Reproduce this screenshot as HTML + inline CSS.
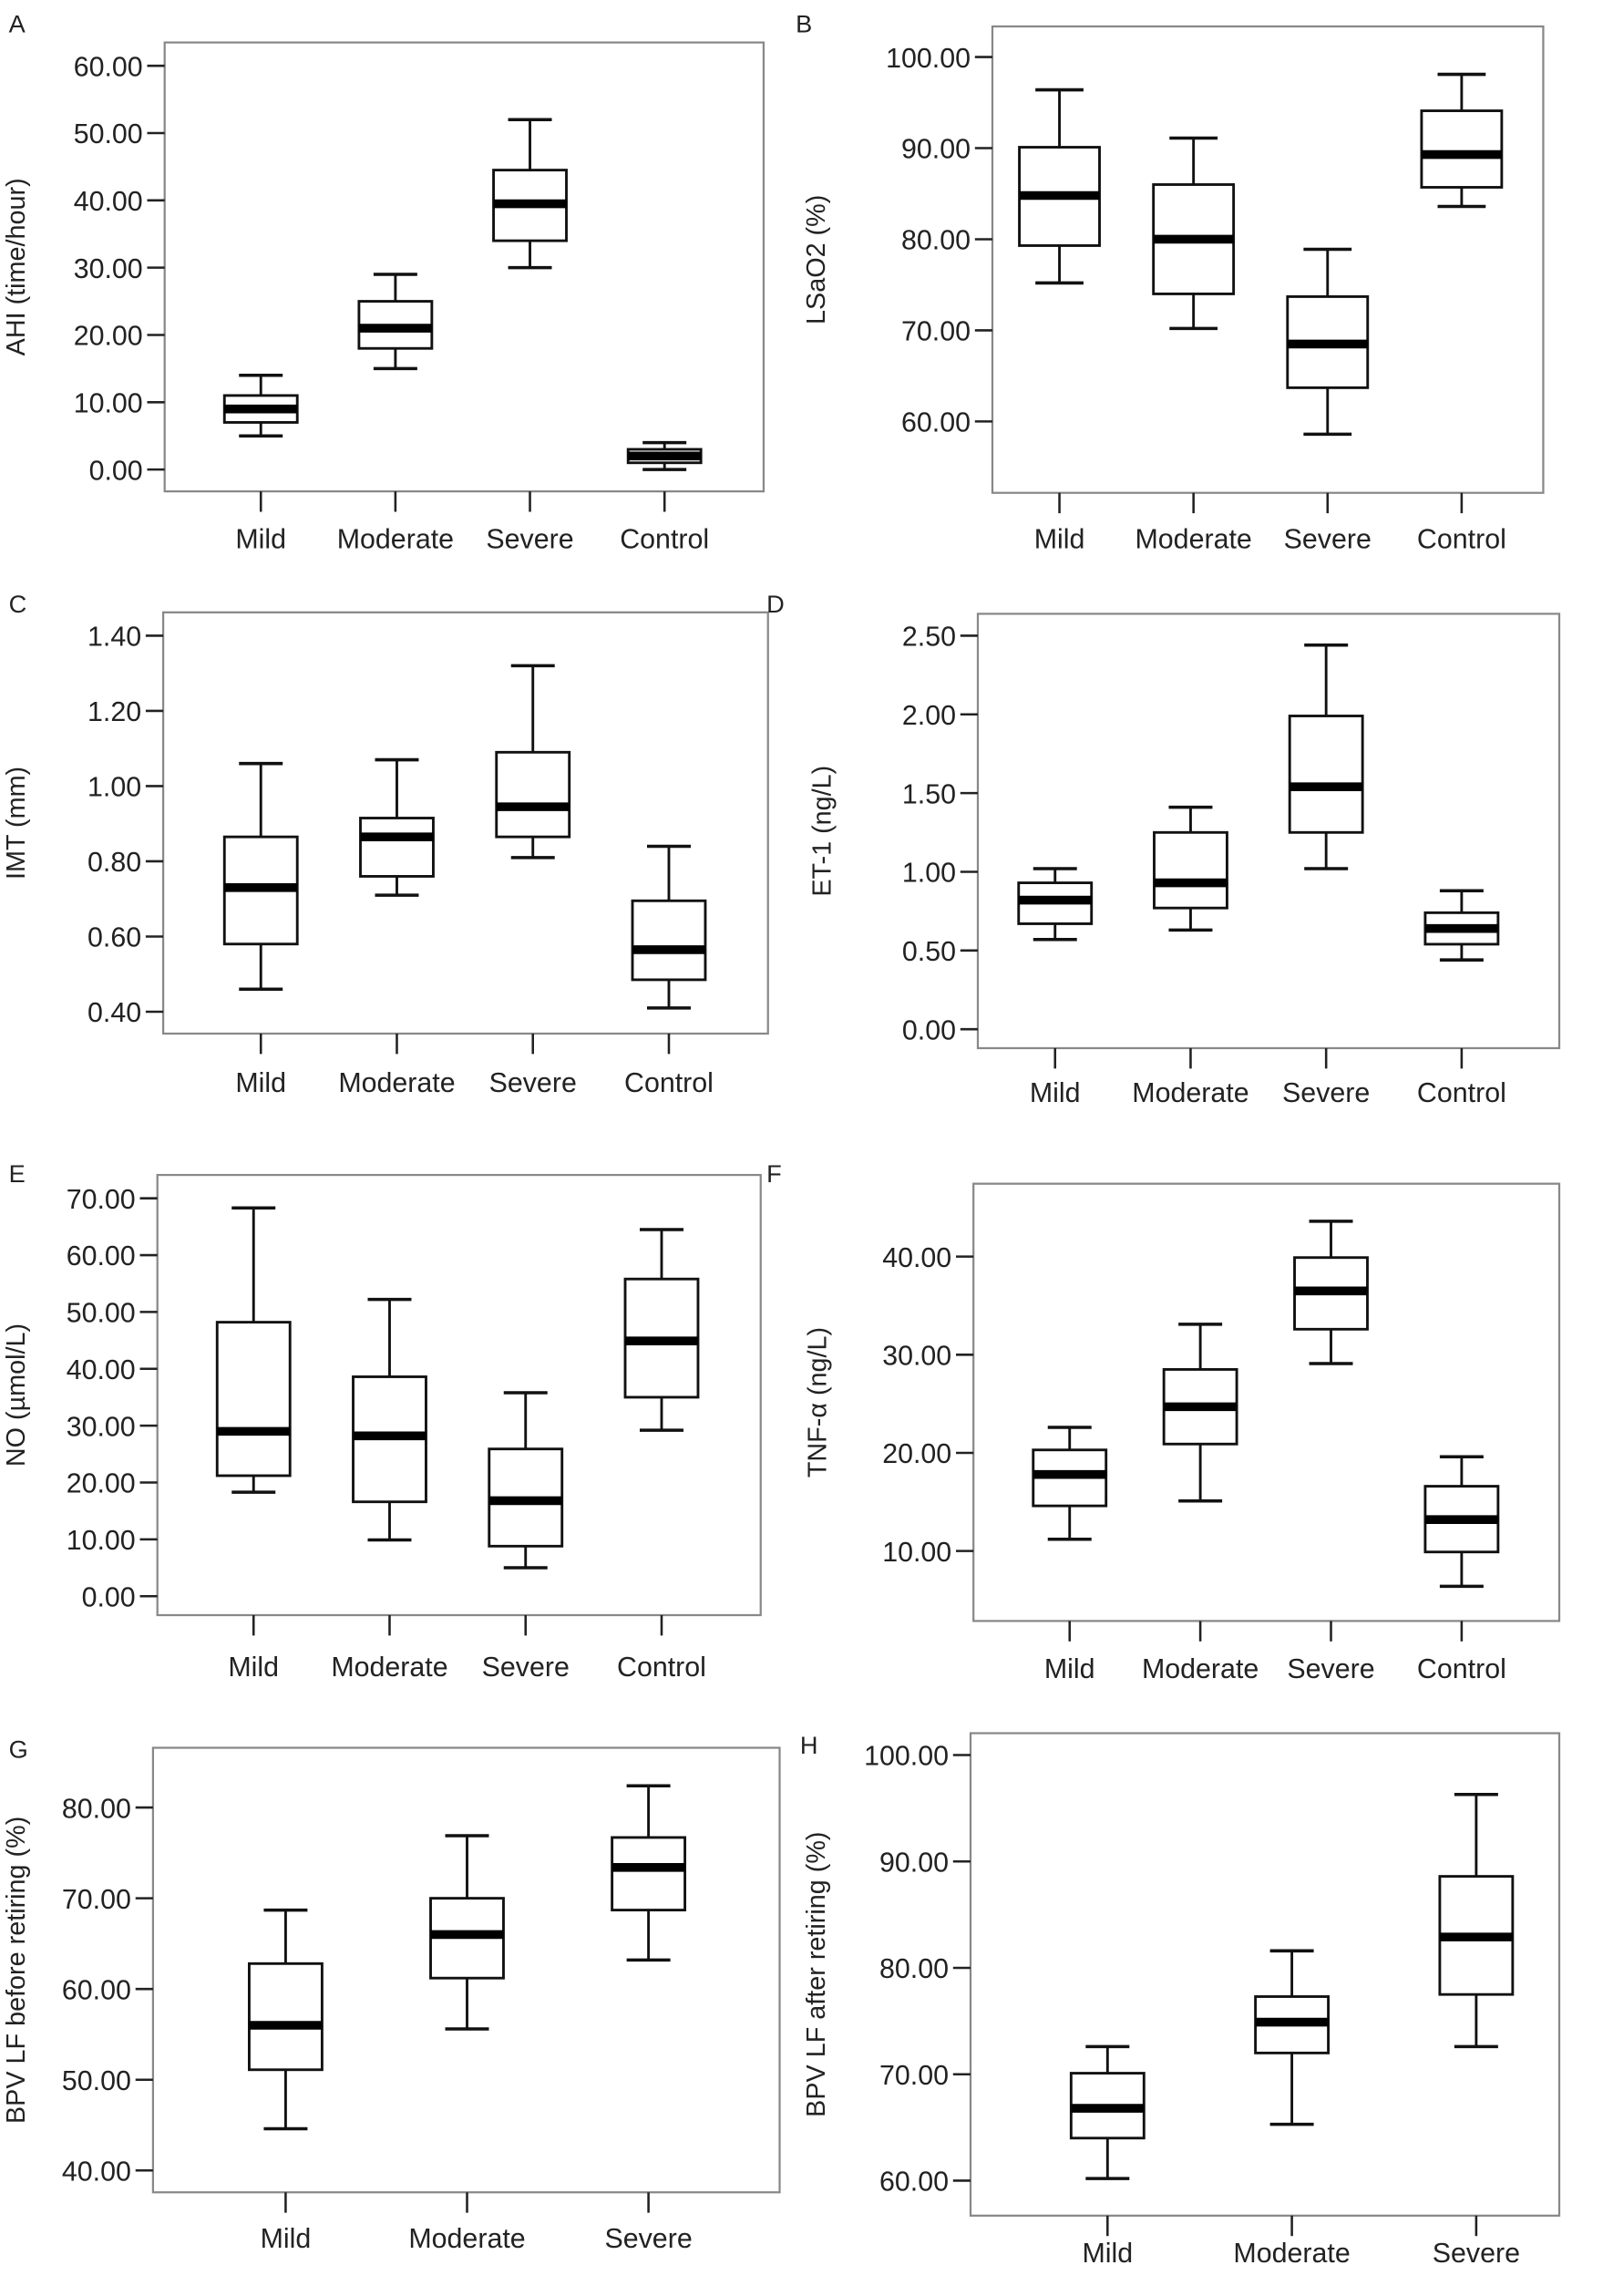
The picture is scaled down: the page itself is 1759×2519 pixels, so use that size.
<!DOCTYPE html>
<html><head><meta charset="utf-8"><style>
html,body{margin:0;padding:0;background:#fff}
svg{display:block}
text{font-family:"Liberation Sans",sans-serif;fill:#222}
</style></head><body>
<svg id="fig" width="1759" height="2519" viewBox="0 0 1100 1575" xmlns="http://www.w3.org/2000/svg"></svg>
<script>
// Panel A
const catsA=["Mild","Moderate","Severe","Control"];
const ticksA=[0,10,20,30,40,50,60];
const lowA=[5,15,30,0], q1A=[7,18,34,1], medA=[9,21,39.5,2], q3A=[11,25,44.5,3], highA=[14,29,52,4];
// Panel B
const ticksB=[60,70,80,90,100];
const lowB=[75.2,70.2,58.6,83.6], q1B=[79.3,74,63.7,85.7], medB=[84.8,80,68.5,89.3], q3B=[90.1,86,73.7,94.1], highB=[96.4,91.1,78.9,98.1];
// Panel C
const ticksC=[0.4,0.6,0.8,1.0,1.2,1.4];
const lowC=[0.46,0.71,0.81,0.41], q1C=[0.58,0.76,0.865,0.485], medC=[0.73,0.865,0.945,0.565], q3C=[0.865,0.915,1.09,0.695], highC=[1.06,1.07,1.32,0.84];
// Panel D
const ticksD=[0,0.5,1.0,1.5,2.0,2.5];
const lowD=[0.57,0.63,1.02,0.44], q1D=[0.67,0.77,1.25,0.54], medD=[0.82,0.93,1.54,0.64], q3D=[0.93,1.25,1.99,0.74], highD=[1.02,1.41,2.44,0.88];
// Panel E
const ticksE=[0,10,20,30,40,50,60,70];
const lowE=[18.3,9.9,5,29.2], q1E=[21.2,16.6,8.8,35], medE=[29,28.2,16.8,44.9], q3E=[48.2,38.6,25.9,55.8], highE=[68.3,52.2,35.8,64.5];
// Panel F
const ticksF=[10,20,30,40];
const lowF=[11.2,15.1,29.1,6.4], q1F=[14.6,20.9,32.6,9.9], medF=[17.8,24.7,36.5,13.2], q3F=[20.3,28.5,39.9,16.6], highF=[22.6,33.1,43.6,19.6];
// Panel G
const catsG=["Mild","Moderate","Severe"];
const ticksG=[40,50,60,70,80];
const lowG=[44.6,55.6,63.2], q1G=[51.1,61.2,68.7], medG=[56,66,73.4], q3G=[62.8,70,76.7], highG=[68.7,76.9,82.4];
// Panel H
const ticksH=[60,70,80,90,100];
const lowH=[60.2,65.3,72.6], q1H=[64,72,77.5], medH=[66.8,74.9,82.9], q3H=[70.1,77.3,88.6], highH=[72.6,81.6,96.3];

const NS="http://www.w3.org/2000/svg";
const svg=document.getElementById('fig');
function mk(tag,attrs,parent){const e=document.createElementNS(NS,tag);for(const k in attrs)e.setAttribute(k,attrs[k]);(parent||svg).appendChild(e);return e;}

function panel(cfg){
  const g=mk('g',{});
  
  
  const t0=cfg.ticks[0], t1=cfg.ticks[cfg.ticks.length-1];
  const y=v=>cfg.yT0+(v-t0)/(t1-t0)*(cfg.yT1-cfg.yT0);
  const x=i=>cfg.cx0+i*(cfg.cx1-cfg.cx0)/(cfg.cats.length-1);
  const lt=mk('text',{x:cfg.lx,y:cfg.ly,'font-size':17},g); lt.textContent=cfg.letter;
  
  
  const fr=mk('rect',{x:cfg.fx0,y:cfg.fy0,width:cfg.fx1-cfg.fx0,height:cfg.fy1-cfg.fy0,fill:'none',stroke:'#888','stroke-width':1.4},g);
  
  
  cfg.ticks.forEach((v,i)=>{
    mk('line',{x1:cfg.fx0-12,x2:cfg.fx0,y1:y(v),y2:y(v),stroke:'#222','stroke-width':1.6},g);
    const tl=mk('text',{x:cfg.fx0-15,y:y(v)+7,'font-size':19,'text-anchor':'end'},g);
    tl.textContent=cfg.fmt(v);
    
    
  });
  const yt=mk('text',{x:0,y:0,'font-size':18,'text-anchor':'middle',transform:`translate(${cfg.ytx},${(cfg.fy0+cfg.fy1)/2}) rotate(-90)`},g);
  yt.textContent=cfg.ytitle;
  
  
  cfg.cats.forEach((c,i)=>{
    const cx=x(i), hw=cfg.bw/2, cw=cfg.bw*0.3;
    mk('line',{x1:cx,x2:cx,y1:cfg.fy1,y2:cfg.fy1+14,stroke:'#222','stroke-width':1.6},g);
    const xl=mk('text',{x:cx,y:cfg.labY,'font-size':19,'text-anchor':'middle'},g); xl.textContent=c;
    
    
    const bg=mk('g',{stroke:'#111','stroke-width':1.8,fill:'none'},g);
    
    
    mk('line',{x1:cx,x2:cx,y1:y(cfg.high[i]),y2:y(cfg.q3[i])},bg);
    mk('line',{x1:cx,x2:cx,y1:y(cfg.q1[i]),y2:y(cfg.low[i])},bg);
    mk('line',{x1:cx-cw,x2:cx+cw,y1:y(cfg.high[i]),y2:y(cfg.high[i]),'stroke-width':2.2},bg);
    mk('line',{x1:cx-cw,x2:cx+cw,y1:y(cfg.low[i]),y2:y(cfg.low[i]),'stroke-width':2.2},bg);
    mk('rect',{x:cx-hw,y:y(cfg.q3[i]),width:cfg.bw,height:y(cfg.q1[i])-y(cfg.q3[i]),fill:'#fff'},bg);
    mk('line',{x1:cx-hw,x2:cx+hw,y1:y(cfg.med[i]),y2:y(cfg.med[i]),'stroke-width':6,stroke:'#000'},bg);
  });
}
const f2=v=>v.toFixed(2);
panel({letter:'A',lx:6,ly:22,fx0:113,fx1:524,fy0:29,fy1:337,yT0:322,yT1:45,ticks:ticksA,cats:catsA,cx0:179,cx1:456,bw:50,labY:376,ytx:17,ytitle:'AHI (time/hour)',fmt:f2,low:lowA,q1:q1A,med:medA,q3:q3A,high:highA});
panel({letter:'B',lx:546,ly:22,fx0:681,fx1:1059,fy0:18,fy1:338,yT0:289,yT1:39,ticks:ticksB,cats:catsA,cx0:727,cx1:1003,bw:55,labY:376,ytx:566,ytitle:'LSaO2 (%)',fmt:f2,low:lowB,q1:q1B,med:medB,q3:q3B,high:highB});
panel({letter:'C',lx:6,ly:420,fx0:112,fx1:527,fy0:420,fy1:709,yT0:694,yT1:436,ticks:ticksC,cats:catsA,cx0:179,cx1:459,bw:50,labY:749,ytx:17,ytitle:'IMT (mm)',fmt:f2,low:lowC,q1:q1C,med:medC,q3:q3C,high:highC});
panel({letter:'D',lx:526,ly:420,fx0:671,fx1:1070,fy0:421,fy1:719,yT0:706,yT1:436,ticks:ticksD,cats:catsA,cx0:724,cx1:1003,bw:50,labY:756,ytx:570,ytitle:'ET-1 (ng/L)',fmt:f2,low:lowD,q1:q1D,med:medD,q3:q3D,high:highD});
panel({letter:'E',lx:6,ly:811,fx0:108,fx1:522,fy0:806,fy1:1108,yT0:1095,yT1:822,ticks:ticksE,cats:catsA,cx0:174,cx1:454,bw:50,labY:1150,ytx:17,ytitle:'NO (µmol/L)',fmt:f2,low:lowE,q1:q1E,med:medE,q3:q3E,high:highE});
panel({letter:'F',lx:526,ly:811,fx0:668,fx1:1070,fy0:812,fy1:1112,yT0:1064,yT1:862,ticks:ticksF,cats:catsA,cx0:734,cx1:1003,bw:50,labY:1151,ytx:567,ytitle:'TNF-α (ng/L)',fmt:f2,low:lowF,q1:q1F,med:medF,q3:q3F,high:highF});
panel({letter:'G',lx:6,ly:1206,fx0:105,fx1:535,fy0:1199,fy1:1504,yT0:1489,yT1:1240,ticks:ticksG,cats:catsG,cx0:196,cx1:445,bw:50,labY:1542,ytx:17,ytitle:'BPV LF before retiring (%)',fmt:f2,low:lowG,q1:q1G,med:medG,q3:q3G,high:highG});
panel({letter:'H',lx:549,ly:1203,fx0:666,fx1:1070,fy0:1189,fy1:1520,yT0:1496,yT1:1204,ticks:ticksH,cats:catsG,cx0:760,cx1:1013,bw:50,labY:1552,ytx:566,ytitle:'BPV LF after retiring (%)',fmt:f2,low:lowH,q1:q1H,med:medH,q3:q3H,high:highH});
</script>
</body></html>
